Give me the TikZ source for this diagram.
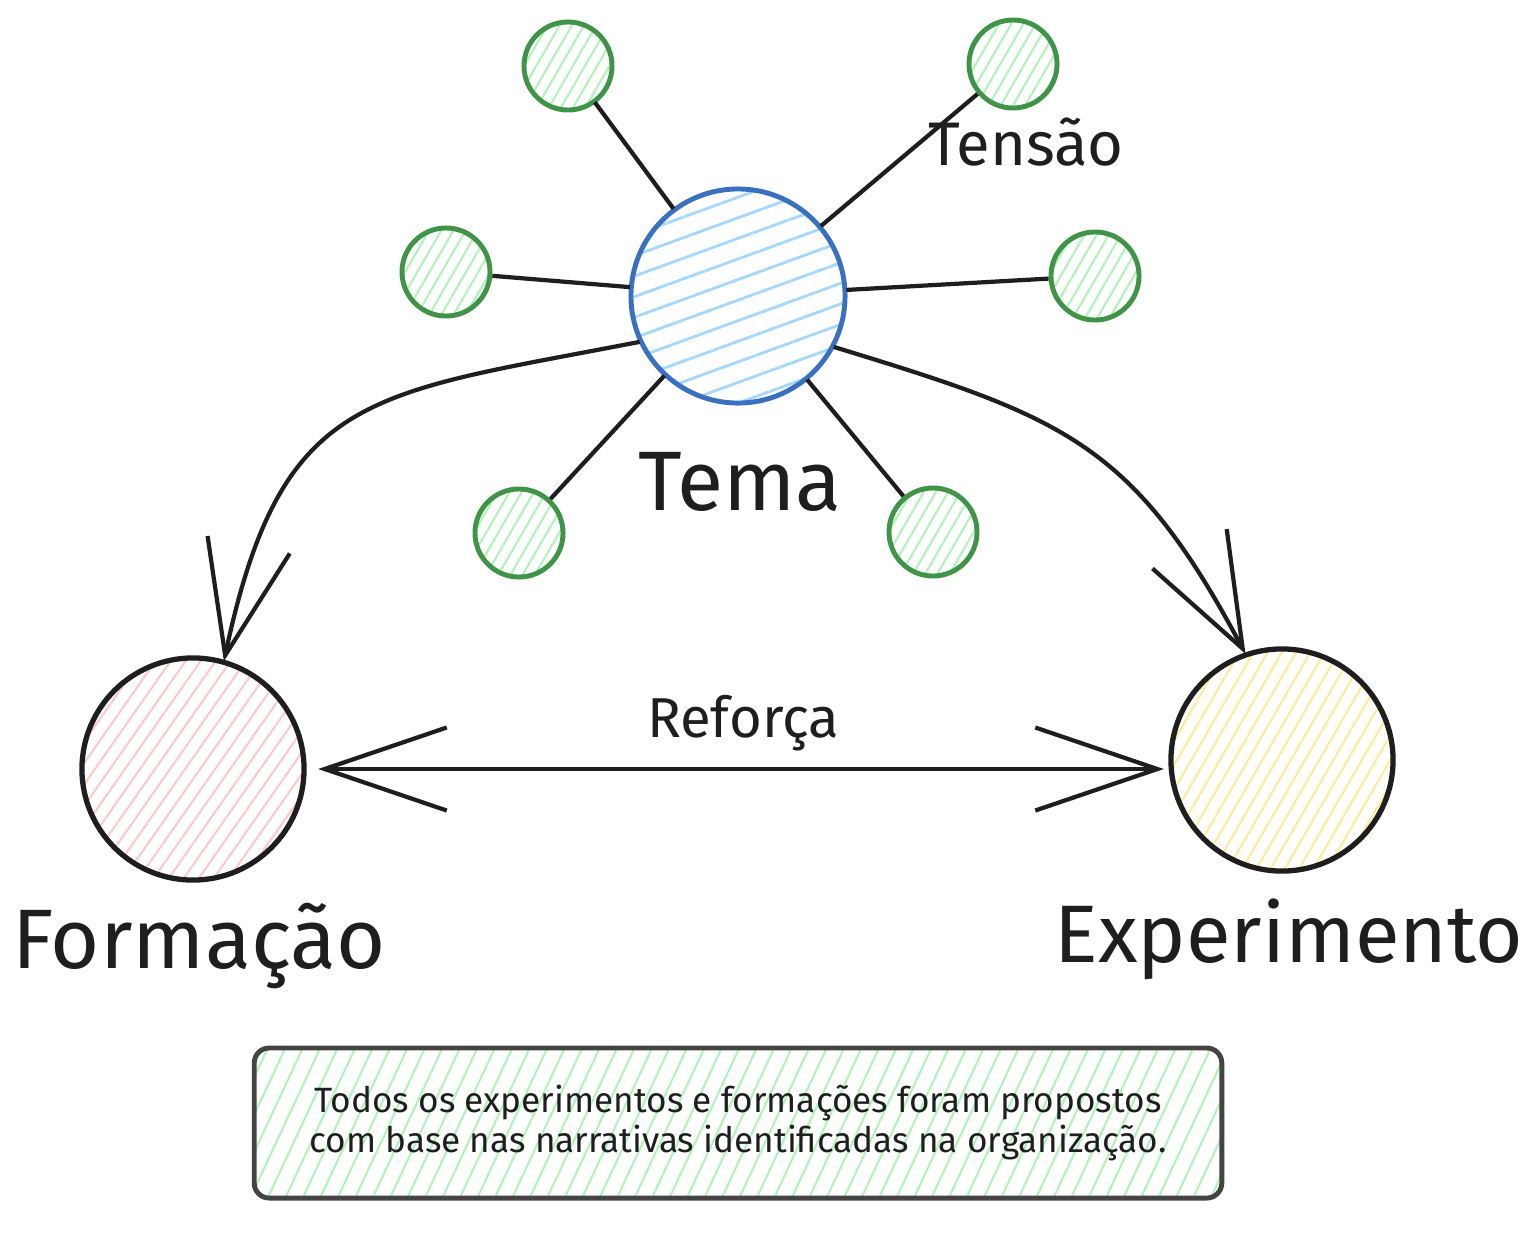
\documentclass[tikz,border=0pt]{standalone}
\usepackage{fontspec}
\setmainfont{Fira Sans}
\usetikzlibrary{arrows.meta,patterns.meta,positioning}

\definecolor{temalinha}{RGB}{58,112,192}
\definecolor{temafill}{RGB}{165,216,255}
\definecolor{verdelinha}{RGB}{64,148,72}
\definecolor{verdefill}{RGB}{178,242,187}
\definecolor{rosafill}{RGB}{255,201,201}
\definecolor{amarelofill}{RGB}{255,236,153}
\definecolor{tinta}{RGB}{30,30,30}
\definecolor{notalinha}{RGB}{68,68,68}

\begin{document}
\begin{tikzpicture}[x=0.01cm,y=-0.01cm]
    % Define styles
    \tikzset{
      tema/.style={circle, draw=temalinha, line width=1.4pt, minimum size=2.14cm, inner sep=0pt,
        pattern={Lines[angle=20,distance=5.5pt,line width=0.8pt]}, pattern color=temafill},
      tensao/.style={circle, draw=verdelinha, line width=1.4pt, minimum size=0.88cm, inner sep=0pt,
        pattern={Lines[angle=60,distance=3pt,line width=0.6pt]}, pattern color=verdefill},
      polo/.style={circle, draw=tinta, line width=1.5pt, minimum size=2.22cm, inner sep=0pt},
      ligacao/.style={draw=tinta, line width=1.2pt},
      seta/.style={draw=tinta, line width=1.2pt, -{Straight Barb[length=1.13cm,width=0.84cm,line width=1.2pt]}},
      reforco/.style={draw=tinta, line width=1.2pt, {Straight Barb[length=1.22cm,width=0.83cm,line width=1.2pt]}-{Straight Barb[length=1.22cm,width=0.83cm,line width=1.2pt]}},
      rotulo/.style={text=tinta, anchor=base, inner sep=0pt},
      nota/.style={rectangle, rounded corners=0.15cm, draw=notalinha, line width=1.4pt,
        minimum width=9.67cm, minimum height=1.5cm, align=center, text=tinta,
        pattern={Lines[angle=65,distance=4.5pt,line width=0.6pt]}, pattern color=verdefill}
    }
    \useasboundingbox (0,0) rectangle (1528,1248);

    % Tema and its tensions
    \node[tema] (tema) at (738,296) {};
    \node[tensao] (t1) at (568,66) {};
    \node[tensao] (t2) at (1013,64) {};
    \node[tensao] (t3) at (446,272) {};
    \node[tensao] (t4) at (1095,276) {};
    \node[tensao] (t5) at (519,533) {};
    \node[tensao] (t6) at (933,532) {};
    \foreach \t in {t1,t2,t3,t4,t5,t6}
      \draw[ligacao] (tema) -- (\t);

    % Poles
    \node[polo, pattern={Lines[angle=55,distance=3.5pt,line width=0.6pt]}, pattern color=rosafill] (form) at (193,769) {};
    \node[polo, pattern={Lines[angle=60,distance=3.5pt,line width=0.6pt]}, pattern color=amarelofill] (exp) at (1282,760) {};

    % Arrows
    \draw[seta] (tema.205) to[out=191,in=78,looseness=1.35] (form.74);
    \draw[seta] (tema.332) to[out=-17,in=118,looseness=1.2] (exp.109);
    \draw[reforco, shorten <=0.13cm, shorten >=0.06cm] (form) -- (form -| exp.west);

    % Labels
    \node[rotulo, font=\fontsize{24}{28}\selectfont] (lbltema) at (740,510) {Tema};
    \node[rotulo, font=\fontsize{17.5}{20}\selectfont] (lbltensao) at (1026,165) {Tensão};
    \node[rotulo, font=\fontsize{16}{19}\selectfont] (lblreforca) at (743,737) {Reforça};
    \node[rotulo, font=\fontsize{24}{28}\selectfont] (lblform) at (199,968) {Formação};
    \node[rotulo, font=\fontsize{23.2}{28}\selectfont] (lblexp) at (1289,962) {Experimento};

    % Note
    \node[nota, font=\fontsize{10}{11.4}\selectfont] (obs) at (738,1123)
      {Todos os experimentos e formações foram propostos\\com base nas narrativas identificadas na organização.};
\end{tikzpicture}
\end{document}
